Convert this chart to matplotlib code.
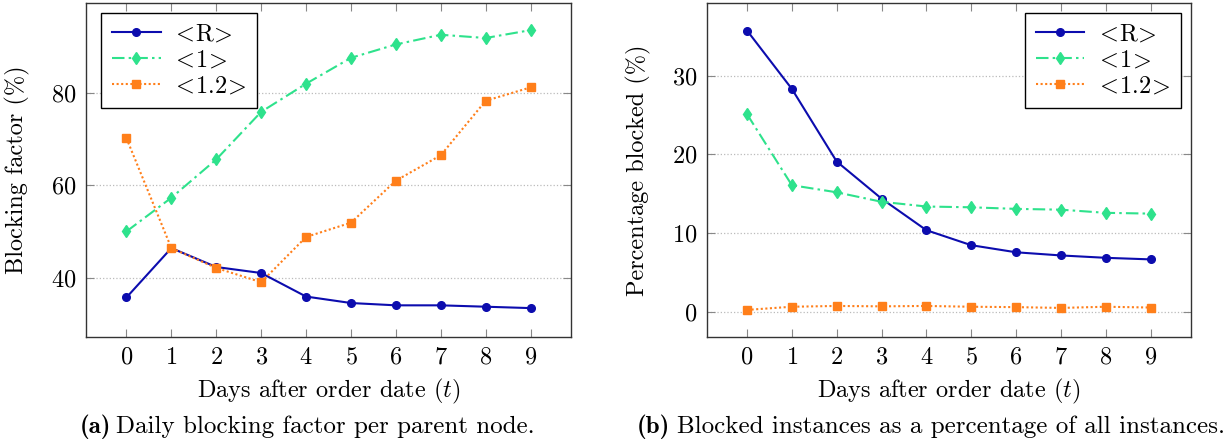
import matplotlib
matplotlib.use("Agg")
import matplotlib.pyplot as plt

plt.rcParams['font.family'] = 'cmr10'
plt.rcParams['mathtext.fontset'] = 'cm'
plt.rcParams['axes.formatter.use_mathtext'] = True
plt.rcParams['font.size'] = 17.5

# data
days = [0, 1, 2, 3, 4, 5, 6, 7, 8, 9]
labels = [r'$\!<\!$R$\!>\!$', r'$\!<\!$1$\!>\!$', r'$\!<\!$1.2$\!>\!$']

factor_r = [35.7, 46.4, 42.3, 41.0, 35.9, 34.5, 34.0, 34.0, 33.7, 33.4]
factor_1 = [50.0, 57.3, 65.6, 75.9, 82.0, 87.6, 90.5, 92.6, 91.9, 93.6]
factor_12 = [70.2, 46.4, 42.1, 39.0, 48.8, 51.9, 61.0, 66.5, 78.3, 81.2]

pct_r = [35.7, 28.3, 19.1, 14.4, 10.4, 8.5, 7.6, 7.2, 6.9, 6.7]
pct_1 = [25.1, 16.1, 15.2, 14.0, 13.4, 13.3, 13.1, 13.0, 12.6, 12.5]
pct_12 = [0.3, 0.7, 0.8, 0.75, 0.8, 0.7, 0.65, 0.55, 0.7, 0.6]

col_r = '#0c0cae'
col_1 = '#2ee28c'
col_12 = '#ff7f1a'


def draw(ax, series, yticks, ylim, ylabel, legend_loc, anchor):
    styles = [
        dict(color=col_r, ls='-', marker='o', ms=5.5),
        dict(color=col_1, ls=(0, (6, 2, 1.2, 2)), marker='d', ms=6.3),
        dict(color=col_12, ls=(0, (1, 1.2)), marker='s', ms=5.3),
    ]
    for ys, st, lab in zip(series, styles, labels):
        ax.plot(days, ys, lw=1.5, label=lab, **st)
    ax.set_xlim(-0.9, 9.9)
    ax.set_ylim(*ylim)
    ax.set_xticks(days)
    ax.set_yticks(yticks)
    ax.grid(axis='y', color='#bbbbbb', ls=':', lw=0.9)
    ax.set_axisbelow(True)
    ax.tick_params(direction='in', length=6, color='#888888', top=True, right=True,
                   labelsize=17.5, pad=7)
    for sp in ax.spines.values():
        sp.set_color('#333333')
        sp.set_linewidth(1.0)
    ax.set_xlabel(r'Days after order date ($t$)', fontsize=17.5)
    ax.xaxis.set_label_coords(0.5, -0.12)
    ax.set_ylabel(ylabel, fontsize=17.5)
    ax.yaxis.set_label_coords(-0.116, 0.5)
    leg = ax.legend(loc=legend_loc, bbox_to_anchor=anchor, borderaxespad=0,
                    fancybox=False, framealpha=1, edgecolor='black',
                    handlelength=2.0, labelspacing=0.15, borderpad=0.45,
                    handletextpad=0.6, fontsize=17.5)
    leg.get_frame().set_linewidth(1.0)


fig = plt.figure(figsize=(12.29, 4.46), dpi=100)
ax1 = fig.add_axes([0.070, 0.245, 0.3946, 0.7485])
ax2 = fig.add_axes([0.575, 0.245, 0.394, 0.7485])

draw(ax1, [factor_r, factor_1, factor_12], [40, 60, 80], (27.2, 99.5),
     'Blocking factor (%)', 'upper left', (0.031, 0.97))
draw(ax2, [pct_r, pct_1, pct_12], [0, 10, 20, 30], (-3.1, 39.2),
     'Percentage blocked (%)', 'upper right', (0.979, 0.97))

# captions: bold tag + body text
cap_y = 1 - 433 / 446
fig.text(111 / 1229, cap_y, '(a)', family='cmb10', ha='right', va='baseline', fontsize=18)
fig.text(116 / 1229, cap_y, 'Daily blocking factor per parent node.',
         ha='left', va='baseline', fontsize=18)
fig.text(670 / 1229, cap_y, '(b)', family='cmb10', ha='right', va='baseline', fontsize=18)
fig.text(677 / 1229, cap_y, 'Blocked instances as a percentage of all instances.',
         ha='left', va='baseline', fontsize=18)

fig.savefig('out.png', dpi=100)
